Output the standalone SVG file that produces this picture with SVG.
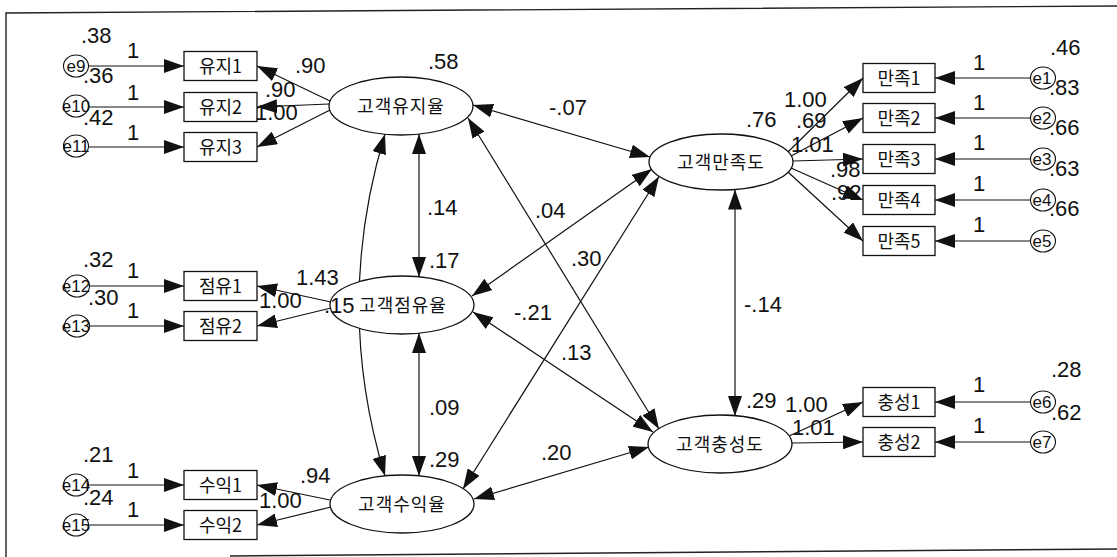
<svg xmlns="http://www.w3.org/2000/svg" width="1117" height="557" viewBox="0 0 1117 557">
<style>
.frame{fill:none;stroke:#222;stroke-width:1.4}
.obs{fill:#fff;stroke:#111;stroke-width:1.3}
.lat{fill:#fff;stroke:#111;stroke-width:1.3}
.err{fill:#fff;stroke:#111;stroke-width:1.1}
.ln{fill:none;stroke:#111;stroke-width:1.2}
.kr{font-family:"Noto Sans CJK KR","Noto Sans",sans-serif;font-size:18px;fill:#111;text-anchor:middle}
.kl{font-family:"Noto Sans CJK KR","Noto Sans",sans-serif;font-size:18px;fill:#111;text-anchor:middle;letter-spacing:1px}
.el{font-family:"Liberation Sans",Arial,sans-serif;font-size:17px;fill:#111;text-anchor:middle}
.num{font-family:"Liberation Sans",Arial,sans-serif;font-size:22px;fill:#111}
</style>
<defs>
<marker id="ah" viewBox="0 0 20 14" refX="20" refY="7" markerWidth="20" markerHeight="14" markerUnits="userSpaceOnUse" orient="auto-start-reverse">
<path d="M0,0 L20,7 L0,14 z" fill="#111"/>
</marker>
</defs>
<rect width="1117" height="557" fill="#fff"/>
<path class="frame" d="M1117,6 L6,13 L6,557"/>
<path class="frame" d="M230,556 L1117,549"/>

<g id="connectors">
<line class="ln" x1="88.5" y1="66" x2="184" y2="66" marker-end="url(#ah)"/>
<line class="ln" x1="88.5" y1="107" x2="184" y2="107" marker-end="url(#ah)"/>
<line class="ln" x1="88.5" y1="147" x2="184" y2="147" marker-end="url(#ah)"/>
<line class="ln" x1="89.5" y1="286" x2="184" y2="286" marker-end="url(#ah)"/>
<line class="ln" x1="89.5" y1="326" x2="184" y2="326" marker-end="url(#ah)"/>
<line class="ln" x1="88.5" y1="485" x2="184" y2="485" marker-end="url(#ah)"/>
<line class="ln" x1="88.5" y1="525" x2="184" y2="525" marker-end="url(#ah)"/>
<line class="ln" x1="1030.5" y1="78" x2="935" y2="78" marker-end="url(#ah)"/>
<line class="ln" x1="1030.5" y1="118" x2="935" y2="118" marker-end="url(#ah)"/>
<line class="ln" x1="1030.5" y1="159" x2="935" y2="159" marker-end="url(#ah)"/>
<line class="ln" x1="1030.5" y1="200" x2="935" y2="200" marker-end="url(#ah)"/>
<line class="ln" x1="1030.5" y1="241" x2="935" y2="241" marker-end="url(#ah)"/>
<line class="ln" x1="1030.5" y1="402" x2="935" y2="402" marker-end="url(#ah)"/>
<line class="ln" x1="1030.5" y1="442" x2="935" y2="442" marker-end="url(#ah)"/>
<line class="ln" x1="330" y1="101" x2="257" y2="66" marker-end="url(#ah)"/>
<line class="ln" x1="329" y1="104" x2="257" y2="107" marker-end="url(#ah)"/>
<line class="ln" x1="330" y1="110" x2="257" y2="147" marker-end="url(#ah)"/>
<line class="ln" x1="331" y1="302" x2="257" y2="286" marker-end="url(#ah)"/>
<line class="ln" x1="331" y1="308" x2="257" y2="326" marker-end="url(#ah)"/>
<line class="ln" x1="330" y1="500" x2="257" y2="485" marker-end="url(#ah)"/>
<line class="ln" x1="331" y1="507" x2="257" y2="525" marker-end="url(#ah)"/>
<line class="ln" x1="788" y1="152" x2="863" y2="78" marker-end="url(#ah)"/>
<line class="ln" x1="791" y1="156" x2="863" y2="118" marker-end="url(#ah)"/>
<line class="ln" x1="793" y1="161" x2="863" y2="159" marker-end="url(#ah)"/>
<line class="ln" x1="791" y1="168" x2="863" y2="200" marker-end="url(#ah)"/>
<line class="ln" x1="788" y1="172" x2="863" y2="241" marker-end="url(#ah)"/>
<line class="ln" x1="789" y1="436" x2="863" y2="402" marker-end="url(#ah)"/>
<line class="ln" x1="792" y1="443" x2="863" y2="442" marker-end="url(#ah)"/>
<line class="ln" x1="473" y1="105" x2="650" y2="157" marker-start="url(#ah)" marker-end="url(#ah)"/>
<line class="ln" x1="419" y1="134" x2="419" y2="277" marker-start="url(#ah)" marker-end="url(#ah)"/>
<line class="ln" x1="419" y1="333" x2="419" y2="476" marker-start="url(#ah)" marker-end="url(#ah)"/>
<line class="ln" x1="735" y1="189.5" x2="735" y2="416" marker-start="url(#ah)" marker-end="url(#ah)"/>
<path class="ln" d="M385,134 Q333,305 385,476" marker-start="url(#ah)" marker-end="url(#ah)"/>
<line class="ln" x1="468" y1="118" x2="659" y2="429" marker-start="url(#ah)" marker-end="url(#ah)"/>
<line class="ln" x1="472" y1="296" x2="652" y2="169" marker-start="url(#ah)" marker-end="url(#ah)"/>
<line class="ln" x1="463" y1="489" x2="659" y2="176.5" marker-start="url(#ah)" marker-end="url(#ah)"/>
<line class="ln" x1="473" y1="312" x2="653" y2="432" marker-start="url(#ah)" marker-end="url(#ah)"/>
<line class="ln" x1="474" y1="499" x2="649" y2="447" marker-start="url(#ah)" marker-end="url(#ah)"/>
</g>

<g id="n-yuji"><ellipse class="lat" cx="401" cy="106" rx="72" ry="29"/><text class="kl" x="401" y="112.5">고객유지율</text></g>
<g id="n-jeomyu"><ellipse class="lat" cx="402" cy="305" rx="72" ry="29"/><text class="kl" x="403" y="311.5">고객점유율</text></g>
<g id="n-suik"><ellipse class="lat" cx="402" cy="504" rx="72" ry="29"/><text class="kl" x="402" y="510.5">고객수익율</text></g>
<g id="n-manjok"><ellipse class="lat" cx="721" cy="162" rx="72" ry="28"/><text class="kl" x="721" y="168.5">고객만족도</text></g>
<g id="n-chung"><ellipse class="lat" cx="720" cy="444" rx="72" ry="29"/><text class="kl" x="720" y="450.5">고객충성도</text></g>

<g id="v-yuji1"><rect class="obs" x="184" y="51.5" width="73" height="29"/><text class="kr" x="220.5" y="72.5">유지1</text></g>
<g id="v-yuji2"><rect class="obs" x="184" y="92.5" width="73" height="29"/><text class="kr" x="220.5" y="113.5">유지2</text></g>
<g id="v-yuji3"><rect class="obs" x="184" y="132.5" width="73" height="29"/><text class="kr" x="220.5" y="153.5">유지3</text></g>
<g id="v-jeom1"><rect class="obs" x="184" y="271.5" width="73" height="29"/><text class="kr" x="220.5" y="292.5">점유1</text></g>
<g id="v-jeom2"><rect class="obs" x="184" y="311.5" width="73" height="29"/><text class="kr" x="220.5" y="332.5">점유2</text></g>
<g id="v-suik1"><rect class="obs" x="184" y="470.5" width="73" height="29"/><text class="kr" x="220.5" y="491.5">수익1</text></g>
<g id="v-suik2"><rect class="obs" x="184" y="510.5" width="73" height="29"/><text class="kr" x="220.5" y="531.5">수익2</text></g>
<g id="v-man1"><rect class="obs" x="863" y="63.5" width="72" height="29"/><text class="kr" x="899" y="84.5">만족1</text></g>
<g id="v-man2"><rect class="obs" x="863" y="103.5" width="72" height="29"/><text class="kr" x="899" y="124.5">만족2</text></g>
<g id="v-man3"><rect class="obs" x="863" y="144.5" width="72" height="29"/><text class="kr" x="899" y="165.5">만족3</text></g>
<g id="v-man4"><rect class="obs" x="863" y="185.5" width="72" height="29"/><text class="kr" x="899" y="206.5">만족4</text></g>
<g id="v-man5"><rect class="obs" x="863" y="226.5" width="72" height="29"/><text class="kr" x="899" y="247.5">만족5</text></g>
<g id="v-chung1"><rect class="obs" x="863" y="387.5" width="72" height="29"/><text class="kr" x="899" y="408.5">충성1</text></g>
<g id="v-chung2"><rect class="obs" x="863" y="427.5" width="72" height="29"/><text class="kr" x="899" y="448.5">충성2</text></g>

<g id="e9"><ellipse class="err" cx="76" cy="66" rx="12.5" ry="11"/><text class="el" x="76" y="72">e9</text></g>
<g id="e10"><ellipse class="err" cx="76" cy="106" rx="12.5" ry="11"/><text class="el" x="76" y="112">e10</text></g>
<g id="e11"><ellipse class="err" cx="76" cy="146" rx="12.5" ry="11"/><text class="el" x="76" y="152">e11</text></g>
<g id="e12"><ellipse class="err" cx="77" cy="286" rx="12.5" ry="11"/><text class="el" x="76" y="292">e12</text></g>
<g id="e13"><ellipse class="err" cx="77" cy="326" rx="12.5" ry="11"/><text class="el" x="76" y="332">e13</text></g>
<g id="e14"><ellipse class="err" cx="76" cy="485" rx="12.5" ry="11"/><text class="el" x="76" y="491">e14</text></g>
<g id="e15"><ellipse class="err" cx="76" cy="525" rx="12.5" ry="11"/><text class="el" x="76" y="531">e15</text></g>
<g id="e1"><ellipse class="err" cx="1043" cy="78" rx="12.5" ry="11"/><text class="el" x="1042" y="84">e1</text></g>
<g id="e2"><ellipse class="err" cx="1043" cy="118" rx="12.5" ry="11"/><text class="el" x="1042" y="124">e2</text></g>
<g id="e3"><ellipse class="err" cx="1043" cy="159" rx="12.5" ry="11"/><text class="el" x="1042" y="165">e3</text></g>
<g id="e4"><ellipse class="err" cx="1043" cy="200" rx="12.5" ry="11"/><text class="el" x="1042" y="206">e4</text></g>
<g id="e5"><ellipse class="err" cx="1043" cy="241" rx="12.5" ry="11"/><text class="el" x="1042" y="247">e5</text></g>
<g id="e6"><ellipse class="err" cx="1043" cy="402" rx="12.5" ry="11"/><text class="el" x="1042" y="408">e6</text></g>
<g id="e7"><ellipse class="err" cx="1043" cy="442" rx="12.5" ry="11"/><text class="el" x="1042" y="448">e7</text></g>

<g id="labels" class="num">
<text x="81" y="43">.38</text><text x="127" y="58">1</text>
<text x="83" y="83">.36</text><text x="127" y="100">1</text>
<text x="83" y="125">.42</text><text x="127" y="140">1</text>
<text x="83" y="267">.32</text><text x="127" y="278">1</text>
<text x="88" y="305">.30</text><text x="127" y="318">1</text>
<text x="83" y="462">.21</text><text x="127" y="478">1</text>
<text x="83" y="505">.24</text><text x="127" y="517">1</text>
<text x="295" y="73">.90</text>
<text x="265" y="97">.90</text>
<text x="255" y="120">1.00</text>
<text x="296" y="285">1.43</text>
<text x="259" y="308">1.00</text>
<text x="324" y="313">.15</text>
<text x="300" y="483">.94</text>
<text x="259" y="508">1.00</text>
<text x="428" y="69">.58</text>
<text x="429" y="268">.17</text>
<text x="429" y="467">.29</text>
<text x="746" y="127">.76</text>
<text x="746" y="408">.29</text>
<text x="549" y="115">-.07</text>
<text x="427" y="215">.14</text>
<text x="429" y="415">.09</text>
<text x="744" y="312">-.14</text>
<text x="535" y="218">.04</text>
<text x="571" y="266">.30</text>
<text x="514" y="320">-.21</text>
<text x="561" y="360">.13</text>
<text x="541" y="460">.20</text>
<text x="784" y="107">1.00</text>
<text x="796" y="128">.69</text>
<text x="791" y="152">1.01</text>
<text x="830" y="177">.98</text>
<text x="831" y="200">.92</text>
<text x="785" y="412">1.00</text>
<text x="792" y="435">1.01</text>
<text x="973" y="70">1</text>
<text x="973" y="110">1</text>
<text x="973" y="150">1</text>
<text x="973" y="191">1</text>
<text x="973" y="232">1</text>
<text x="973" y="392">1</text>
<text x="973" y="433">1</text>
<text x="1050" y="55">.46</text>
<text x="1049" y="95">.83</text>
<text x="1049" y="135">.66</text>
<text x="1049" y="176">.63</text>
<text x="1049" y="216">.66</text>
<text x="1051" y="377">.28</text>
<text x="1051" y="420">.62</text>
</g>
</svg>
